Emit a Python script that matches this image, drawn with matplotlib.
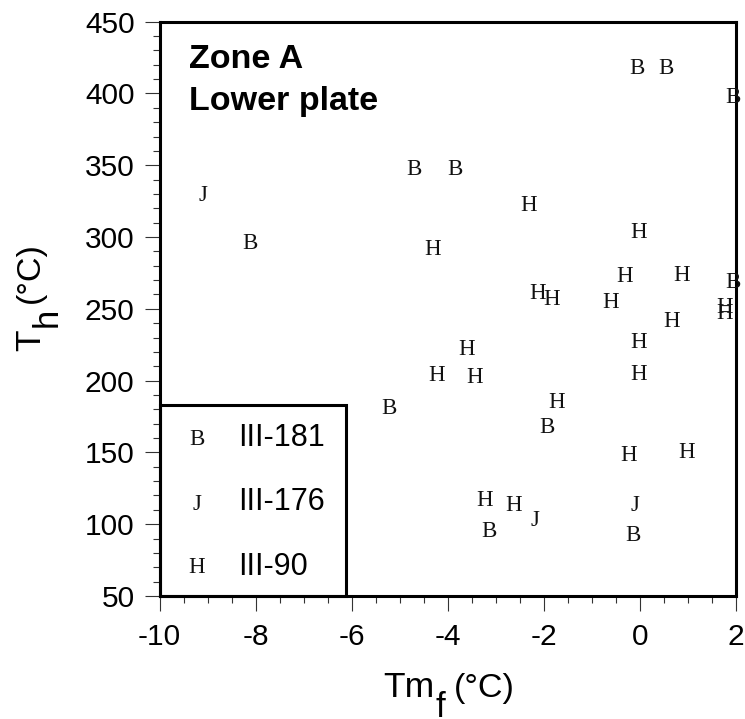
import matplotlib
matplotlib.use("Agg")
import matplotlib.pyplot as plt
from matplotlib.patches import Rectangle
from matplotlib.ticker import MultipleLocator

plt.rcParams["axes.unicode_minus"] = False

# III-181 (B)
b_x = [-8.11, -4.71, -3.84, -0.05, 0.55, 1.95, 1.95, -5.23, -1.93, -3.13, -0.14]
b_y = [297.5, 349, 349, 419, 419, 399, 270, 182, 169, 97, 94]
# III-176 (J)
j_x = [-9.09, -2.19, -0.09]
j_y = [330.5, 104, 114.5]
# III-90 (H)
h_x = [-4.31, -2.32, -0.03, -0.32, 0.87, -2.13, -1.83, -0.61, 1.76, 1.76, 0.67,
       -3.61, -4.23, -3.43, -1.73, -0.23, 0.98, -3.22, -2.63, -0.03, -0.03]
h_y = [293, 323.5, 305, 274, 275, 262.6, 258.5, 256.5, 252.5, 248.5, 242.7,
       223.6, 205, 204, 186.5, 149.4, 151.7, 118, 114.5, 228, 206]

series = [("B", "III-181", b_x, b_y), ("J", "III-176", j_x, j_y), ("H", "III-90", h_x, h_y)]

W, H = 745, 719
def fx(px):
    return px / W
def fy(py):
    return 1 - py / H

sans = "Liberation Sans"
serif = "Liberation Serif"

fig = plt.figure(figsize=(W / 100, H / 100), dpi=100)
ax = fig.add_axes([fx(159.5), fy(596), 576.2 / W, 574.3 / H])

for sym, name, xs, ys in series:
    for x, y in zip(xs, ys):
        ax.text(x, y, sym, ha="center", va="center_baseline", family=serif,
                fontsize=16.5, color="#111111", clip_on=False)

ax.set_xlim(-10, 2)
ax.set_ylim(50, 450)
ax.xaxis.set_major_locator(MultipleLocator(2))
ax.xaxis.set_minor_locator(MultipleLocator(0.5))
ax.yaxis.set_major_locator(MultipleLocator(50))
ax.yaxis.set_minor_locator(MultipleLocator(10))
ax.tick_params(which="major", direction="out", length=11, width=0.8, color="#333333")
ax.tick_params(which="minor", direction="out", length=5, width=0.8, color="#333333")
ax.tick_params(axis="x", which="major", pad=8.5)
ax.tick_params(axis="y", which="major", pad=7)
for lab in ax.get_xticklabels() + ax.get_yticklabels():
    lab.set_fontfamily(sans)
    lab.set_fontsize(21.5)
for s in ax.spines.values():
    s.set_linewidth(2.2)

# legend box
ax.add_patch(Rectangle((0, 0), (345.7 - 159.5) / 576.2, (596 - 405) / 574.3,
                       transform=ax.transAxes, fill=False, lw=2.2, ec="black", clip_on=False))
leg_sym_y = [437.3, 501.7, 565]
leg_txt_y = [446, 510, 575]
for (sym, name, xs, ys), sy, ty in zip(series, leg_sym_y, leg_txt_y):
    fig.text(fx(197), fy(sy), sym, ha="center", va="center_baseline", family=serif,
             fontsize=16.5, color="#111111")
    fig.text(fx(238), fy(ty), name, ha="left", va="baseline", family=sans, fontsize=22)

# zone title
fig.text(fx(189), fy(68), "Zone A", ha="left", va="baseline", family=sans,
         fontweight="bold", fontsize=24.5)
fig.text(fx(189), fy(110), "Lower plate", ha="left", va="baseline", family=sans,
         fontweight="bold", fontsize=24.5)

# x label  Tm_f (°C)
fig.text(fx(383), fy(697), "Tm", ha="left", va="baseline", family=sans, fontsize=25.5)
fig.text(fx(435), fy(717), "f", ha="left", va="baseline", family=sans, fontsize=25)
fig.text(fx(454), fy(697), "(°C)", ha="left", va="baseline", family=sans, fontsize=24.5)

# y label  T_h (°C)
kw = dict(rotation=90, rotation_mode="anchor", ha="left", va="baseline", family=sans)
fig.text(fx(40), fy(351), "T", fontsize=25.5, **kw)
fig.text(fx(57), fy(327), "h", fontsize=25, **kw)
fig.text(fx(39), fy(303), "(°C)", fontsize=24.5, **kw)

fig.savefig("out.png", dpi=100)
